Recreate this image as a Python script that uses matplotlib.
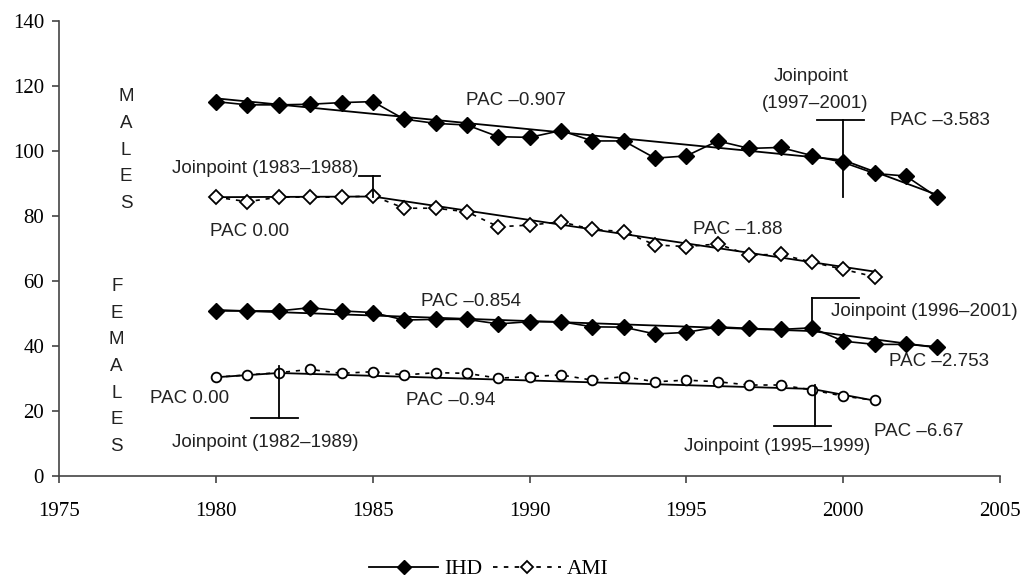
import matplotlib.pyplot as plt
from matplotlib.lines import Line2D

# Rates by year
years_ihd = list(range(1980, 2004))
years_ami = list(range(1980, 2002))

ihd_males = [115.1, 114.1, 114.1, 114.3, 114.8, 115.1, 109.7, 108.4, 107.9, 104.3, 104.1, 106.2,
             103.0, 103.0, 97.7, 98.4, 103.0, 100.7, 101.0, 98.5, 96.4, 93.0, 92.2, 85.7]
ami_males = [85.7, 84.3, 85.7, 85.7, 85.7, 86.1, 82.3, 82.3, 81.2, 76.6, 77.1, 78.1,
             75.8, 75.1, 71.0, 70.5, 71.3, 67.9, 68.1, 65.7, 63.5, 61.2]
ihd_females = [50.7, 50.7, 50.7, 51.7, 50.7, 50.2, 47.9, 48.1, 48.1, 46.7, 47.4, 47.4,
               45.8, 45.7, 43.6, 44.1, 45.8, 45.3, 45.0, 45.5, 41.4, 40.4, 40.4, 39.7]
ami_females = [30.3, 31.0, 31.7, 32.7, 31.5, 32.0, 31.0, 31.7, 31.5, 30.0, 30.5, 31.0,
               29.4, 30.5, 28.9, 29.4, 28.9, 27.9, 27.9, 26.4, 24.5, 23.2]

# Joinpoint fitted segments (year, value)
trend_ihd_m_x = [1980, 2000, 2003]
trend_ihd_m_y = [116.1, 97.1, 86.4]
trend_ami_m_x = [1980, 1985, 2001]
trend_ami_m_y = [85.7, 85.9, 62.8]
trend_ihd_f_x = [1980, 1999, 2003]
trend_ihd_f_y = [51.0, 44.5, 39.4]
trend_ami_f_x = [1980, 1982, 1999, 2001]
trend_ami_f_y = [30.3, 31.6, 26.7, 23.1]

fig = plt.figure(figsize=(10.35, 5.78), dpi=100)
ax = fig.add_axes([0.0573, 0.177, 0.9089, 0.7872])

sans = 'Liberation Sans'
serif = 'Liberation Serif'
dash = (0, (2.5, 3.5))

# trend lines
for tx, ty in [(trend_ihd_m_x, trend_ihd_m_y), (trend_ami_m_x, trend_ami_m_y),
               (trend_ihd_f_x, trend_ihd_f_y), (trend_ami_f_x, trend_ami_f_y)]:
    ax.plot(tx, ty, color='black', lw=1.3, zorder=2)

# observed data
ax.plot(years_ihd, ihd_males, color='black', lw=1.2, marker='D', ms=8,
        mfc='black', mec='black', zorder=3)
ax.plot(years_ami, ami_males, color='black', lw=1.2, ls=dash, marker='D', ms=7.5,
        mfc='white', mec='black', mew=1.3, zorder=3)
ax.plot(years_ihd, ihd_females, color='black', lw=1.2, marker='D', ms=8,
        mfc='black', mec='black', zorder=3)
ax.plot(years_ami, ami_females, color='black', lw=1.2, ls=dash, marker='o', ms=7,
        mfc='white', mec='black', mew=1.3, zorder=3)

# joinpoint brackets
def bracket(x, y0, y1, hx0, hx1, hy):
    ax.plot([x, x], [y0, y1], color='black', lw=1.3, zorder=4)
    ax.plot([hx0, hx1], [hy, hy], color='black', lw=1.3, zorder=4)

bracket(2000, 85.9, 109.4, 1999.15, 2000.65, 109.4)
bracket(1985, 85.8, 92.2, 1984.55, 1985.22, 92.2)
bracket(1999, 44.8, 54.6, 1999, 2000.5, 54.6)
bracket(1982, 17.7, 33.8, 1981.1, 1982.6, 17.7)
bracket(1999.1, 15.4, 27.9, 1997.8, 1999.6, 15.4)

fs = 13.5
def label(x, y, s, ha='left'):
    ax.text(x, y, s, ha=ha, va='center', fontsize=fs, family=sans, color='#222222')

label(1987.97, 115.4, 'PAC \u20130.907')
label(1998.99, 122.8, 'Joinpoint', ha='center')
label(1999.09, 114.6, '(1997\u20132001)', ha='center')
label(2001.48, 109.4, 'PAC \u20133.583')
label(1978.58, 94.6, 'Joinpoint (1983\u20131988)')
label(1979.80, 75.1, 'PAC 0.00')
label(1995.21, 75.6, 'PAC \u20131.88')
label(1986.52, 53.5, 'PAC \u20130.854')
label(1999.62, 50.5, 'Joinpoint (1996\u20132001)')
label(2001.46, 35.1, 'PAC \u20132.753')
label(1977.89, 23.8, 'PAC 0.00')
label(1986.07, 23.1, 'PAC \u20130.94')
label(1978.59, 10.1, 'Joinpoint (1982\u20131989)')
label(2000.85, 8.9, 'Joinpoint (1995\u20131999)', ha='right')
label(2000.98, 13.5, 'PAC \u20136.67')

for i, ch in enumerate('MALES'):
    label(1977.13, 116.6 - i * 8.2, ch, ha='center')
for i, ch in enumerate('FEMALES'):
    label(1976.83, 58.2 - i * 8.2, ch, ha='center')

ax.set_xlim(1975, 2005)
ax.set_ylim(0, 140)
ax.set_xticks(range(1975, 2006, 5))
ax.set_yticks(range(0, 141, 20))
for side in ['top', 'right']:
    ax.spines[side].set_visible(False)
for side in ['left', 'bottom']:
    ax.spines[side].set_color('#444444')
    ax.spines[side].set_linewidth(1.2)
ax.tick_params(length=5, width=1.2, color='#444444', labelsize=15, pad=6)
ax.tick_params(axis='x', pad=14)
for t in ax.get_xticklabels() + ax.get_yticklabels():
    t.set_family(serif)

handles = [Line2D([], [], color='black', lw=1.3, marker='D', ms=7, mfc='black'),
           Line2D([], [], color='black', lw=1.3, ls=dash, marker='D', ms=6,
                  mfc='white', mew=1.3)]
fig.legend(handles, ['IHD', 'AMI'], loc='center', bbox_to_anchor=(0.4725, 0.015),
           ncol=2, frameon=False, prop={'family': serif, 'size': 15.5},
           handlelength=3.2, handletextpad=0.25, columnspacing=0.5)

fig.savefig('out.png', dpi=100)
